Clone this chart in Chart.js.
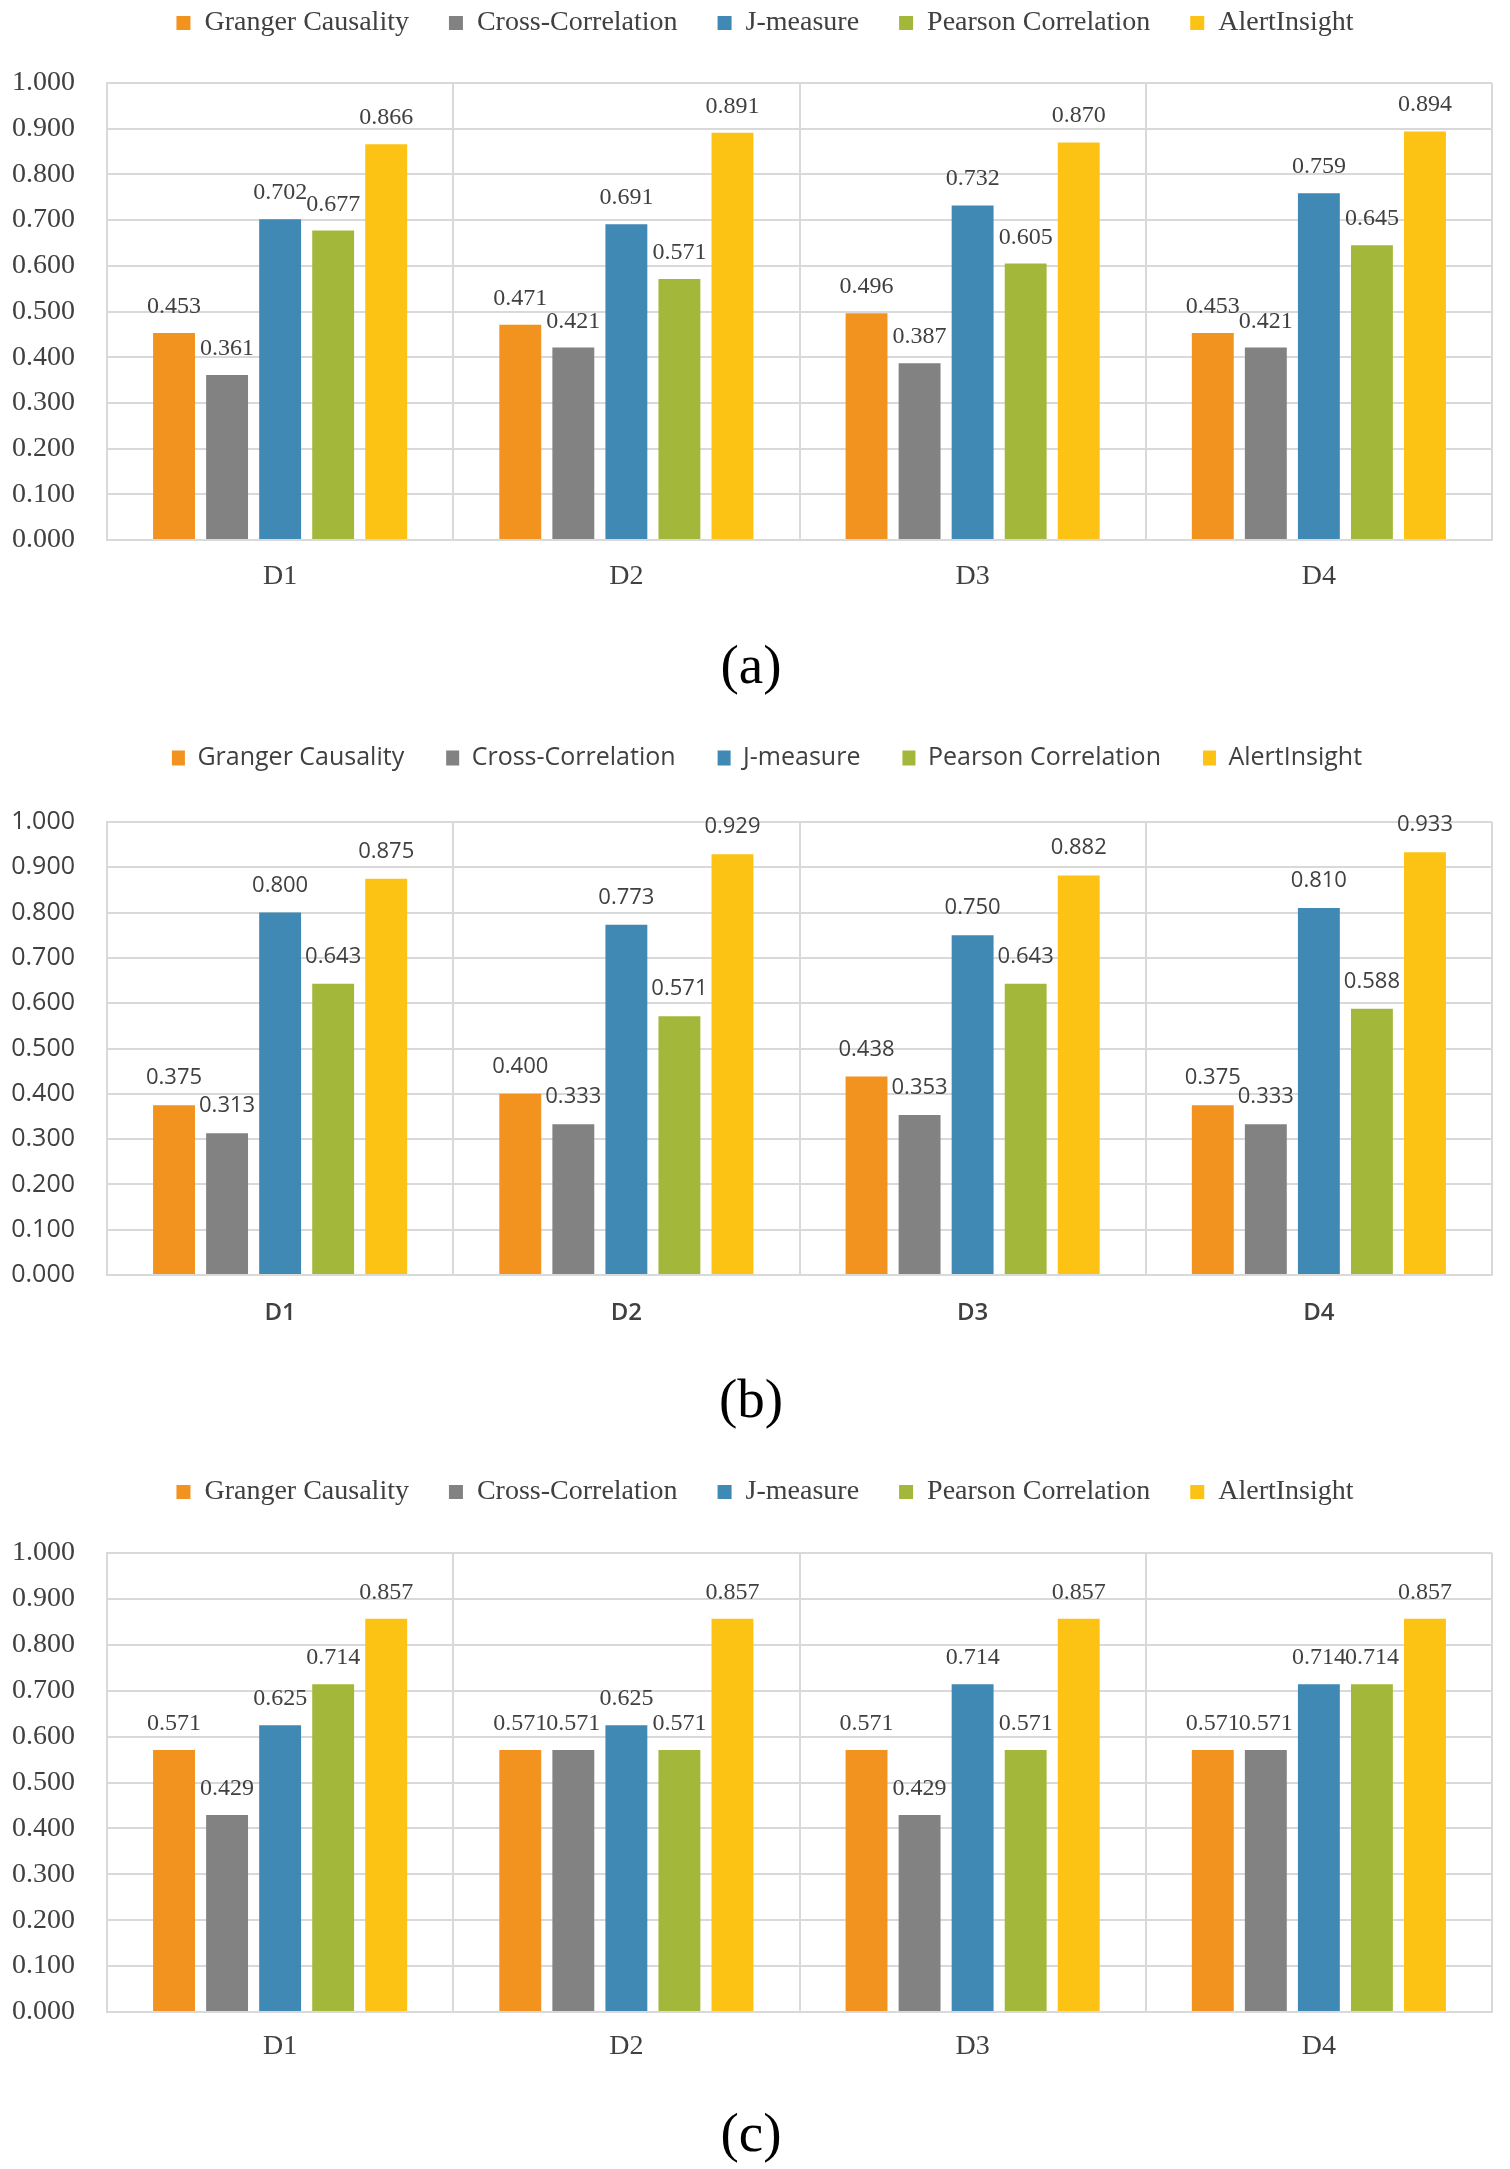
<!DOCTYPE html>
<html>
<head>
<meta charset="utf-8">
<script src="https://cdn.jsdelivr.net/npm/chart.js@4.4.1/dist/chart.umd.min.js"></script>
<style>
html,body{margin:0;padding:0;background:#ffffff;}
body{width:1510px;height:2169px;position:relative;overflow:hidden;}
.panel{position:absolute;left:0;width:1510px;}
canvas{display:block;}
</style>
</head>
<body>
<div class="panel" style="top:0px;height:734px"><canvas id="chartA" width="1510" height="734"></canvas></div>
<div class="panel" style="top:735px;height:734px"><canvas id="chartB" width="1510" height="734"></canvas></div>
<div class="panel" style="top:1469px;height:701px"><canvas id="chartC" width="1510" height="701"></canvas></div>
<script>
// ---------- data ----------
const categories = ['D1', 'D2', 'D3', 'D4'];
const seriesNames = ['Granger Causality', 'Cross-Correlation', 'J-measure', 'Pearson Correlation', 'AlertInsight'];
const yTickLabels = ['0.000','0.100','0.200','0.300','0.400','0.500','0.600','0.700','0.800','0.900','1.000'];
const captions = ['(a)', '(b)', '(c)'];

// (a)
const grangerA = [0.453, 0.471, 0.496, 0.453];
const crossA   = [0.361, 0.421, 0.387, 0.421];
const jmeasA   = [0.702, 0.691, 0.732, 0.759];
const pearsonA = [0.677, 0.571, 0.605, 0.645];
const alertA   = [0.866, 0.891, 0.870, 0.894];
// (b)
const grangerB = [0.375, 0.400, 0.438, 0.375];
const crossB   = [0.313, 0.333, 0.353, 0.333];
const jmeasB   = [0.800, 0.773, 0.750, 0.810];
const pearsonB = [0.643, 0.571, 0.643, 0.588];
const alertB   = [0.875, 0.929, 0.882, 0.933];
// (c)
const grangerC = [0.571, 0.571, 0.571, 0.571];
const crossC   = [0.429, 0.571, 0.429, 0.571];
const jmeasC   = [0.625, 0.625, 0.714, 0.714];
const pearsonC = [0.714, 0.571, 0.571, 0.714];
const alertC   = [0.857, 0.857, 0.857, 0.857];

// ---------- style ----------
const seriesColors = ['#F2921F', '#828282', '#3F89B4', '#A3B83A', '#FCC314'];
const gridColor = '#d9d9d9';
const textColor = '#404040';
const serif = "'Liberation Serif', 'Times New Roman', serif";
const sans = "'Open Sans', 'Liberation Sans', sans-serif";

// plugin: value labels above bars
const valueLabels = {
  id: 'valueLabels',
  afterDatasetsDraw(chart, args, opts) {
    const ctx = chart.ctx;
    ctx.save();
    ctx.font = opts.size + 'px ' + opts.family;
    ctx.fillStyle = opts.color;
    ctx.textAlign = 'center';
    ctx.textBaseline = 'alphabetic';
    chart.data.datasets.forEach((ds, i) => {
      const meta = chart.getDatasetMeta(i);
      meta.data.forEach((bar, j) => {
        ctx.fillText(ds.data[j].toFixed(3), bar.x, bar.y - opts.offset);
      });
    });
    ctx.restore();
  }
};

// plugin: legend sizing / placement tweaks
const legendTweak = {
  id: 'legendTweak',
  beforeLayout(chart, args, opts) {
    const lg = chart.legend;
    if (lg && !lg._tweaked) {
      const orig = lg.fit.bind(lg);
      lg.fit = function () { orig(); this.height = opts.height; };
      lg._tweaked = true;
    }
  },
  afterLayout(chart, args, opts) {
    const lg = chart.legend;
    if (!lg) return;
    const lo = chart.options.plugins.legend.labels;
    const fs = lo.font.size;
    const itemH = Math.max(fs, lo.boxHeight);
    const newTop = opts.centerY - lo.padding - itemH / 2;
    const dy = newTop - lg.top;
    const dx = opts.centerX - (lg.left + lg.right) / 2;
    lg.top += dy; lg.bottom += dy;
    lg.left += dx; lg.right += dx;
  }
};

function makeChart(id, values, panel, f) {
  const xAxisH = 54;
  const catLH = f.cat * 1.2;
  const capSize = 55;
  const capLH = capSize * 1.2;
  const capPadTop = panel.captionY - panel.plotBottom - xAxisH - capLH / 2;
  const capPadBottom = Math.max(0, panel.height - panel.captionY - capLH / 2);
  const datasets = values.map((arr, i) => ({
    label: seriesNames[i],
    data: arr,
    backgroundColor: seriesColors[i],
    borderWidth: 0,
    categoryPercentage: 0.766,
    barPercentage: 0.79
  }));
  return new Chart(document.getElementById(id), {
    type: 'bar',
    data: { labels: categories, datasets },
    plugins: [valueLabels, legendTweak],
    options: {
      responsive: false,
      animation: false,
      devicePixelRatio: 1,
      layout: { padding: { left: 10, right: 18, top: 0, bottom: 0 } },
      plugins: {
        tooltip: { enabled: false },
        legend: {
          display: true,
          position: 'top',
          labels: {
            boxWidth: f.boxW,
            boxHeight: f.boxH,
            padding: f.legPad,
            color: textColor,
            font: { family: f.family, size: f.legend }
          }
        },
        title: {
          display: true,
          position: 'bottom',
          text: panel.caption,
          color: '#000000',
          font: { family: serif, size: capSize, weight: 'normal', lineHeight: 1.2 },
          padding: { top: capPadTop, bottom: capPadBottom }
        },
        legendTweak: { height: panel.plotTop, centerY: panel.legendY, centerX: panel.legendX },
        valueLabels: { family: f.family, size: f.label, color: textColor, offset: f.labelOff }
      },
      scales: {
        x: {
          offset: true,
          grid: { display: true, offset: true, color: gridColor, lineWidth: 2, drawTicks: false },
          border: { display: true, color: gridColor, width: 2 },
          ticks: {
            color: textColor,
            font: { family: f.family, size: f.cat, weight: f.catWeight },
            padding: panel.catY - panel.plotBottom - catLH / 2
          },
          afterFit(s) { s.height = xAxisH; }
        },
        y: {
          min: 0,
          max: 1,
          grid: { color: gridColor, lineWidth: 2, drawTicks: false },
          border: { display: true, color: gridColor, width: 2 },
          ticks: {
            stepSize: 0.1,
            color: textColor,
            font: { family: f.family, size: f.tick },
            padding: 32,
            callback: (v, i) => yTickLabels[i]
          },
          afterFit(s) { s.width = 97; }
        }
      }
    }
  });
}

const serifFonts = { family: serif, legend: 28, tick: 28, cat: 28, catWeight: 'normal', label: 24, labelOff: 20, boxW: 14, boxH: 14, legPad: 40 };
const sansFonts  = { family: sans,  legend: 25, tick: 25, cat: 24, catWeight: '600', label: 22, labelOff: 21, boxW: 13, boxH: 15, legPad: 42 };

makeChart('chartA', [grangerA, crossA, jmeasA, pearsonA, alertA],
  { caption: captions[0], height: 734, legendY: 23, legendX: 765, plotTop: 83, plotBottom: 540, catY: 577, captionY: 669 }, serifFonts);
makeChart('chartB', [grangerB, crossB, jmeasB, pearsonB, alertB],
  { caption: captions[1], height: 734, legendY: 23, legendX: 767, plotTop: 87, plotBottom: 540, catY: 578, captionY: 668 }, sansFonts);
makeChart('chartC', [grangerC, crossC, jmeasC, pearsonC, alertC],
  { caption: captions[2], height: 701, legendY: 23, legendX: 765, plotTop: 84, plotBottom: 544, catY: 579, captionY: 669 }, serifFonts);
</script>
</body>
</html>
